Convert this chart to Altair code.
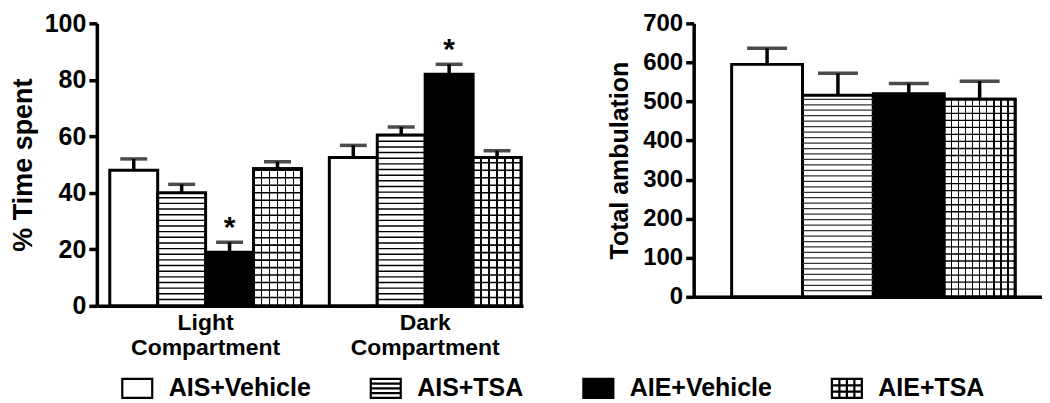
import altair as alt
import pandas as pd

# ---------------- data ----------------
groups = ["AIS+Vehicle", "AIS+TSA", "AIE+Vehicle", "AIE+TSA"]
compartments = ["Light Compartment", "Dark Compartment"]

light_mean = [48.0, 40.0, 19.0, 48.5]
light_sem = [4.0, 3.0, 3.5, 2.5]
light_sig = ["", "", "*", ""]

dark_mean = [52.5, 60.5, 82.0, 52.5]
dark_sem = [4.3, 2.8, 3.5, 2.4]
dark_sig = ["", "", "*", ""]

amb_mean = [595, 516, 520, 506]
amb_sem = [41, 56, 26, 46]

left_ticks = [0, 20, 40, 60, 80, 100]
right_ticks = [0, 100, 200, 300, 400, 500, 600, 700]

# ---------------- tables ----------------
time_df = pd.DataFrame({
    "compartment": [compartments[0]] * 4 + [compartments[1]] * 4,
    "group": groups + groups,
    "value": light_mean + dark_mean,
    "sem": light_sem + dark_sem,
    "sig": light_sig + dark_sig,
})
amb_df = pd.DataFrame({"group": groups, "value": amb_mean, "sem": amb_sem})

FONT = "Liberation Sans"
fill_scale = alt.Scale(domain=groups, range=["white", "white", "black", "white"])
stroke_scale = alt.Scale(domain=groups, range=["black", "black", "black", "black"])
bar_fill = alt.condition(alt.datum.group == "AIE+Vehicle", alt.value("black"), alt.value("white"))

box = "M-1,-0.633H1V0.633H-1Z"
shapes = [
    box,
    box + "M-1,-0.316H1M-1,0H1M-1,0.316H1",
    box,
    box + "M-1,-0.211H1M-1,0.211H1M-0.5,-0.633V0.633M0,-0.633V0.633M0.5,-0.633V0.633",
]


def vlines(n, half):
    stops = [alt.GradientStop(color="white", offset=0)]
    for k in range(1, n):
        p = k / n
        stops += [
            alt.GradientStop(color="white", offset=p - half),
            alt.GradientStop(color="black", offset=p - half),
            alt.GradientStop(color="black", offset=p + half),
            alt.GradientStop(color="white", offset=p + half),
        ]
    stops.append(alt.GradientStop(color="white", offset=1))
    return alt.Gradient(gradient="linear", x1=0, y1=0, x2=1, y2=0, stops=stops)


def y_axis(title, values, title_size, label_size, title_pad):
    return alt.Axis(
        title=title, values=values, grid=False,
        titleFont=FONT, titleFontSize=title_size, titleFontWeight="bold",
        titleColor="black", titlePadding=title_pad,
        labelFont=FONT, labelFontSize=label_size, labelFontWeight="bold",
        labelColor="black", labelPadding=3, labelOverlap=False,
        tickSize=8, tickWidth=3.5, tickColor="black",
        domainWidth=3.5, domainColor="black",
    )


LEG = alt.Legend(
    title=None, orient="none", legendX=24, legendY=349,
    direction="horizontal", columns=4, columnPadding=55, padding=0,
    labelFont=FONT, labelFontSize=25, labelFontWeight="bold",
    labelColor="black", labelOffset=15, labelLimit=0,
    symbolSize=900, symbolStrokeColor="black", symbolStrokeWidth=2.2,
    symbolOpacity=1,
)

# ---------------- left panel: % time spent ----------------
lx_scale = alt.Scale(paddingInner=0.127, paddingOuter=0.034, align=0.867)
lx_axis = alt.Axis(
    title=None, ticks=False, labelAngle=0,
    labelExpr="split(datum.label, ' ')",
    labelFont=FONT, labelFontSize=23, labelFontWeight="bold",
    labelColor="black", labelLineHeight=25, labelPadding=6,
    labelBaseline="top",
    domainWidth=3.5, domainColor="black",
)
LX = alt.X("compartment:N", sort=compartments, scale=lx_scale, axis=lx_axis)
LXO = alt.XOffset("group:N", sort=groups, scale=alt.Scale(paddingInner=0, paddingOuter=0))
ly_scale = alt.Scale(domain=[0, 100], nice=False)
ly_axis = y_axis("% Time spent", left_ticks, 27, 25, 7)


def LY(field):
    return alt.Y(field, scale=ly_scale, axis=ly_axis)


def hatch(base, xenc, yfn, xo, which, step, thick, color):
    ch = base.transform_filter(alt.datum.group == which).transform_calculate(
        hy=f"sequence({step}, datum.value, {step})"
    ).transform_flatten(["hy"]).transform_calculate(
        hy2=f"datum.hy + {thick}"
    ).mark_bar(color=color, strokeWidth=0)
    enc = dict(x=xenc, y=yfn("hy:Q"), y2="hy2:Q")
    if xo is not None:
        enc["xOffset"] = xo
    return ch.encode(**enc)


lbase = alt.Chart(time_df).transform_calculate(upper="datum.value + datum.sem")

l_bars = lbase.mark_bar(stroke="black", strokeWidth=3).encode(
    x=LX, xOffset=LXO, y=LY("value:Q"), fill=bar_fill)
l_grid = lbase.transform_filter(alt.datum.group == "AIE+TSA").mark_bar(
    fill=vlines(6, 0.018), stroke="black", strokeWidth=3
).encode(x=LX, xOffset=LXO, y=LY("value:Q"))
l_stripes = hatch(lbase, LX, LY, LXO, "AIS+TSA", 2, 0.5, "black")
l_rows = hatch(lbase, LX, LY, LXO, "AIE+TSA", 2.65, 0.55, "black")
l_err = lbase.mark_rule(color="black", strokeWidth=3.5).encode(
    x=LX, xOffset=LXO, y=LY("value:Q"), y2="upper:Q")
l_cap = lbase.mark_tick(color="black", thickness=3.5, size=27, orient="horizontal").encode(
    x=LX, xOffset=LXO, y=LY("upper:Q"))
l_star = lbase.mark_text(font=FONT, fontSize=30, fontWeight="bold", color="black",
                         baseline="alphabetic", dy=-5).encode(
    x=LX, xOffset=LXO, y=LY("upper:Q"), text="sig:N")
l_leg = lbase.mark_point(filled=True, opacity=0).encode(
    x=LX, xOffset=LXO, y=LY("value:Q"),
    fill=alt.Fill("group:N", scale=fill_scale, legend=LEG),
    stroke=alt.Stroke("group:N", scale=stroke_scale, legend=LEG),
    shape=alt.Shape("group:N", scale=alt.Scale(domain=groups, range=shapes), legend=LEG),
)

left = alt.layer(l_bars, l_grid, l_stripes, l_rows, l_err, l_cap, l_star, l_leg).properties(
    width=427, height=283)

# ---------------- right panel: total ambulation ----------------
rx_scale = alt.Scale(paddingInner=0, paddingOuter=0.458, align=0.585)
rx_axis = alt.Axis(title=None, labels=False, ticks=False,
                   domainWidth=3.5, domainColor="black")
RX = alt.X("group:N", sort=groups, scale=rx_scale, axis=rx_axis)
ry_scale = alt.Scale(domain=[0, 700], nice=False)
ry_axis = y_axis("Total ambulation", right_ticks, 25, 24, 10)


def RY(field):
    return alt.Y(field, scale=ry_scale, axis=ry_axis)


rbase = alt.Chart(amb_df).transform_calculate(upper="datum.value + datum.sem")

r_bars = rbase.mark_bar(stroke="black", strokeWidth=3).encode(
    x=RX, y=RY("value:Q"), fill=bar_fill)
r_grid = rbase.transform_filter(alt.datum.group == "AIE+TSA").mark_bar(
    fill=vlines(10, 0.01), stroke="black", strokeWidth=3
).encode(x=RX, y=RY("value:Q"))
r_stripes = hatch(rbase, RX, RY, None, "AIS+TSA", 14, 3.2, "#333333")
r_rows = hatch(rbase, RX, RY, None, "AIE+TSA", 18, 3.4, "black")
r_err = rbase.mark_rule(color="black", strokeWidth=3.5).encode(
    x=RX, y=RY("value:Q"), y2="upper:Q")
r_cap = rbase.mark_tick(color="black", thickness=3.5, size=40, orient="horizontal").encode(
    x=RX, y=RY("upper:Q"))

right = alt.layer(r_bars, r_grid, r_stripes, r_rows, r_err, r_cap).properties(
    width=349, height=274)

chart = alt.hconcat(left, right, spacing=171, bounds="flush").properties(
    padding={"left": 1, "top": 3, "right": 0, "bottom": 0}
).configure(font=FONT).configure_view(stroke=None)

chart.save("out.html", embed_options={"renderer": "svg", "actions": False})
